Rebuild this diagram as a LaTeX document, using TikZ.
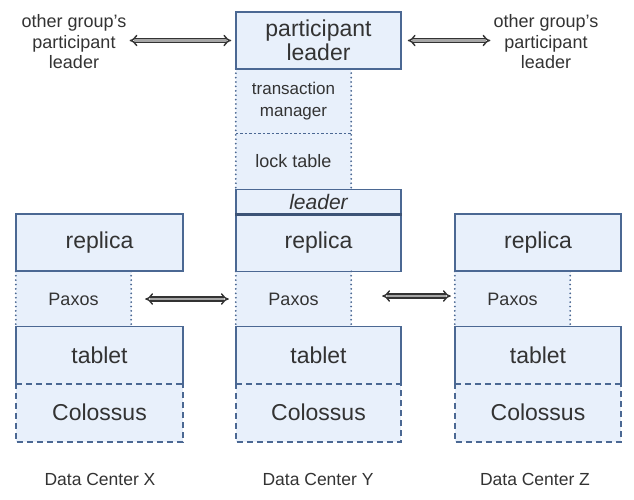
\documentclass[tikz,border=0pt]{standalone}
\usepackage{fontspec}
\setmainfont{Liberation Sans}
\usetikzlibrary{arrows.meta}
\definecolor{boxfill}{HTML}{E8F0FB}
\definecolor{boxline}{HTML}{4B6893}
\definecolor{txt}{HTML}{333333}
\tikzset{
  fbig/.style={font=\fontsize{23}{24}\selectfont},
  fld/.style={font=\fontsize{21}{22}\selectfont},
  fmid/.style={font=\fontsize{18}{20.5}\selectfont},
  ftm/.style={font=\fontsize{17}{22}\selectfont},
  fsm/.style={font=\fontsize{17.5}{19}\selectfont},
  blk/.style={fill=boxfill, draw=boxline, line width=1.5pt, inner sep=0pt, text=txt, align=center},
  soft/.style={fill=boxfill, draw=none, inner sep=0pt, text=txt, align=center},
  dotline/.style={draw=boxline, line width=2pt, line cap=round, dash pattern=on 0pt off 4.4pt},
  dashline/.style={draw=boxline, line width=1.6pt, dash pattern=on 6pt off 4pt},
  fineline/.style={draw=boxline, line width=1.4pt, dash pattern=on 2.5pt off 2pt},
  biarrow/.style={double=gray!70, double distance=2.4pt, line width=1.4pt, draw=black!80, {Implies}-{Implies}},
  lbl/.style={text=txt, align=center, inner sep=0pt},
}
\begin{document}
\begin{tikzpicture}[x=1pt,y=-1pt]
\useasboundingbox[fill=white] (0,0) rectangle (634,499);

% ---------- Data Center Y ----------
\node[soft, minimum width=115pt, minimum height=64pt, ftm] (tm) at (293.5,101) {transaction\\manager};
\node[soft, minimum width=115pt, minimum height=57pt, fmid] (lt) at (293.5,161.5) {lock table};
\draw[dotline] (tm.north west) -- (lt.south west);
\draw[dotline] (tm.north east) -- (lt.south east);
\draw[fineline] (tm.south west) -- (tm.south east);

\node[blk, minimum width=165pt, minimum height=57pt, fbig] (pl) at (318.5,40.5) {participant\\leader};

\node[blk, minimum width=165pt, minimum height=24pt, fld] (ld) at (318.5,201.5) {\itshape leader};
\node[blk, minimum width=165pt, minimum height=58pt, fbig] (ry) at (318.5,242.5) {replica};
\draw[draw=boxline!80!black, line width=2.6pt] (ld.south west) -- (ld.south east);

\node[soft, minimum width=115pt, minimum height=55pt, fmid] (py) at (293.5,299) {Paxos};
\draw[dotline] (py.north west) -- (py.south west);
\draw[dotline] (py.north east) -- (py.south east);

\node[soft, minimum width=165pt, minimum height=58pt, fbig] (cy) at (318.5,412.5) {Colossus};
\draw[dashline] (cy.north west) -- (cy.south west) -- (cy.south east) -- (cy.north east);
\node[soft, minimum width=165pt, minimum height=57pt, fbig] (ty) at (318.5,355) {tablet};
\draw[draw=boxline, line width=1.5pt] (ty.south west) -- (ty.north west) -- (ty.north east) -- (ty.south east);
\draw[dashline] (ty.south west) -- (ty.south east);

% ---------- Data Center X ----------
\node[blk, minimum width=167pt, minimum height=57pt, fbig] (rx) at (99.5,242.5) {replica};
\node[soft, minimum width=115pt, minimum height=55pt, fmid] (px) at (73.5,299) {Paxos};
\draw[dotline] (px.north west) -- (px.south west);
\draw[dotline] (px.north east) -- (px.south east);
\node[soft, minimum width=167pt, minimum height=58pt, fbig] (cx) at (99.5,412.5) {Colossus};
\draw[dashline] (cx.north west) -- (cx.south west) -- (cx.south east) -- (cx.north east);
\node[soft, minimum width=167pt, minimum height=57pt, fbig] (tx) at (99.5,355) {tablet};
\draw[draw=boxline, line width=1.5pt] (tx.south west) -- (tx.north west) -- (tx.north east) -- (tx.south east);
\draw[dashline] (tx.south west) -- (tx.south east);

% ---------- Data Center Z ----------
\node[blk, minimum width=166pt, minimum height=57pt, fbig] (rz) at (538,242.5) {replica};
\node[soft, minimum width=115pt, minimum height=55pt, fmid] (pz) at (512.5,299) {Paxos};
\draw[dotline] (pz.north west) -- (pz.south west);
\draw[dotline] (pz.north east) -- (pz.south east);
\node[soft, minimum width=166pt, minimum height=58pt, fbig] (cz) at (538,412.5) {Colossus};
\draw[dashline] (cz.north west) -- (cz.south west) -- (cz.south east) -- (cz.north east);
\node[soft, minimum width=166pt, minimum height=57pt, fbig] (tz) at (538,355) {tablet};
\draw[draw=boxline, line width=1.5pt] (tz.south west) -- (tz.north west) -- (tz.north east) -- (tz.south east);
\draw[dashline] (tz.south west) -- (tz.south east);

% ---------- other groups ----------
\node[lbl, fmid] (ogl) at (74,42) {other group's\\participant\\leader};
\node[lbl, fmid] (ogr) at (546,42) {other group's\\participant\\leader};

% ---------- arrows ----------
\draw[biarrow, shorten <=3pt, shorten >=4pt] (ogl.east |- pl.west) -- (pl.west);
\draw[biarrow, shorten <=6pt, shorten >=3pt] (pl.east) -- (ogr.west |- pl.east);
\draw[biarrow, shorten <=14pt, shorten >=7pt] (px.east) -- (py.west);
\draw[biarrow, shorten <=31pt, shorten >=4pt] ([yshift=3pt]py.east) -- ([yshift=3pt]pz.west);

% ---------- data center labels ----------
\node[lbl, fsm] (dcx) at (100,479) {Data Center X};
\node[lbl, fsm] (dcy) at (318,479) {Data Center Y};
\node[lbl, fsm] (dcz) at (535,479) {Data Center Z};
\end{tikzpicture}
\end{document}
